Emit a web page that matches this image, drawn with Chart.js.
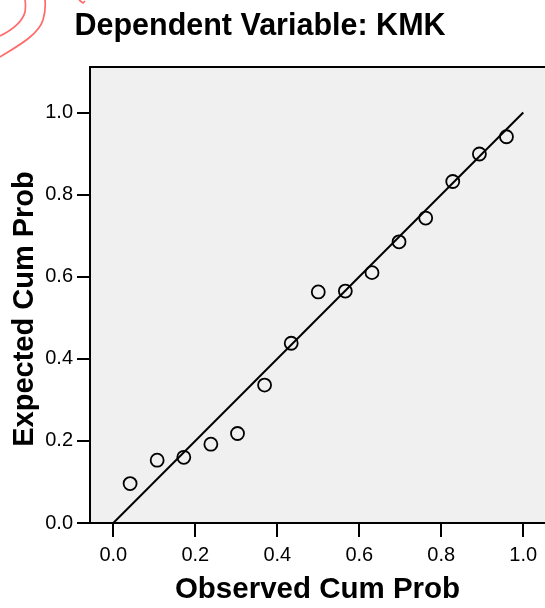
<!DOCTYPE html>
<html>
<head>
<meta charset="utf-8">
<script src="https://cdn.jsdelivr.net/npm/chart.js@4.4.1/dist/chart.umd.min.js"></script>
<style>
  html, body { margin: 0; padding: 0; background: #fff; overflow: hidden; }
  canvas { display: block; }
</style>
</head>
<body>
<canvas id="ppplot" width="545" height="608"></canvas>
<script>
// P-P plot values
const observedCumProb = [0.041, 0.107, 0.172, 0.238, 0.303, 0.369, 0.434, 0.500, 0.566, 0.631, 0.697, 0.762, 0.828, 0.893, 0.959];
const expectedCumProb = [0.096, 0.153, 0.160, 0.192, 0.218, 0.336, 0.438, 0.563, 0.565, 0.610, 0.685, 0.743, 0.832, 0.899, 0.941];
const refLineX = [0, 1];
const refLineY = [0, 1];
const xTicks = [0, 0.2, 0.4, 0.6, 0.8, 1.0];
const yTicks = [0, 0.2, 0.4, 0.6, 0.8, 1.0];

const chartTitle = "Dependent Variable: KMK";
const xTitle = "Observed Cum Prob";
const yTitle = "Expected Cum Prob";

const FONT = "'Liberation Sans', Arial, sans-serif";

const points = observedCumProb.map((x, i) => ({ x: x, y: expectedCumProb[i] }));
const diagonal = refLineX.map((x, i) => ({ x: x, y: refLineY[i] }));

// grey plot background, top frame line, title, y title and the red pen marks
const frame = {
  id: "frame",
  beforeDraw(chart) {
    const { ctx, chartArea: a } = chart;
    ctx.save();
    ctx.fillStyle = "#f0f0f0";
    ctx.fillRect(a.left, a.top, a.right - a.left, a.bottom - a.top);
    ctx.restore();
  },
  afterDraw(chart) {
    const { ctx, chartArea: a } = chart;
    ctx.save();
    ctx.strokeStyle = "#000";
    ctx.lineWidth = 2;
    ctx.beginPath();
    ctx.moveTo(a.left - 1, a.top);
    ctx.lineTo(a.right, a.top);
    ctx.stroke();

    ctx.fillStyle = "#000";
    ctx.textAlign = "center";
    ctx.textBaseline = "alphabetic";
    ctx.font = "bold 30.5px " + FONT;
    ctx.fillText(chartTitle, 260, 35);

    ctx.save();
    ctx.translate(33, 309);
    ctx.rotate(-Math.PI / 2);
    ctx.font = "bold 29px " + FONT;
    ctx.fillText(yTitle, 0, 0);
    ctx.restore();

    // red marks in the corner
    ctx.strokeStyle = "#ff6a6a";
    ctx.lineWidth = 1.7;
    ctx.beginPath();
    ctx.moveTo(0, 36);
    ctx.bezierCurveTo(10, 31, 22, 23, 25, 12);
    ctx.quadraticCurveTo(26, 5, 25, 0);
    ctx.stroke();
    ctx.beginPath();
    ctx.moveTo(0, 57);
    ctx.bezierCurveTo(14, 48, 38, 36, 43, 20);
    ctx.quadraticCurveTo(46, 10, 45, 0);
    ctx.stroke();
    ctx.beginPath();
    ctx.moveTo(79, 0);
    ctx.lineTo(83, 3);
    ctx.lineTo(85, 1);
    ctx.stroke();
    ctx.restore();
  }
};

new Chart(document.getElementById("ppplot"), {
  type: "scatter",
  plugins: [frame],
  data: {
    datasets: [
      {
        label: "Observed",
        data: points,
        showLine: false,
        pointRadius: 6.5,
        pointHoverRadius: 6.5,
        pointBorderWidth: 1.8,
        borderColor: "#000",
        backgroundColor: "rgba(0,0,0,0)",
      },
      {
        label: "Reference",
        type: "line",
        data: diagonal,
        borderColor: "#000",
        borderWidth: 2,
        pointRadius: 0,
        fill: false,
      },
    ],
  },
  options: {
    responsive: false,
    animation: false,
    layout: { autoPadding: false, padding: { top: 67, left: 0, right: 0, bottom: 0 } },
    plugins: {
      legend: { display: false },
      tooltip: { enabled: false },
      title: { display: false },
    },
    scales: {
      x: {
        type: "linear",
        min: -0.0568,
        max: 1.053,
        afterBuildTicks: (s) => { s.ticks = xTicks.map((v) => ({ value: v })); },
        afterFit: (s) => { s.height = 85; s.paddingLeft = 0; s.paddingRight = 0; },
        grid: { drawOnChartArea: false, color: "#000", lineWidth: 2, tickLength: 14, tickWidth: 2 },
        border: { display: true, color: "#000", width: 2 },
        ticks: {
          color: "#000",
          font: { family: FONT, size: 20 },
          padding: 6,
          maxRotation: 0,
          callback: (v) => Number(v).toFixed(1),
        },
        title: {
          display: true,
          text: xTitle,
          color: "#000",
          font: { family: FONT, size: 29.5, weight: "bold" },
          padding: { top: 0, bottom: 0 },
        },
      },
      y: {
        type: "linear",
        min: 0,
        max: 1.111,
        afterBuildTicks: (s) => { s.ticks = yTicks.map((v) => ({ value: v })); },
        afterFit: (s) => { s.width = 90; s.paddingTop = 0; s.paddingBottom = 0; },
        grid: { drawOnChartArea: false, color: "#000", lineWidth: 2, tickLength: 13, tickWidth: 2 },
        border: { display: true, color: "#000", width: 2 },
        ticks: {
          color: "#000",
          font: { family: FONT, size: 20 },
          padding: 4,
          callback: (v) => Number(v).toFixed(1),
        },
        title: { display: false },
      },
    },
  },
});
</script>
</body>
</html>
